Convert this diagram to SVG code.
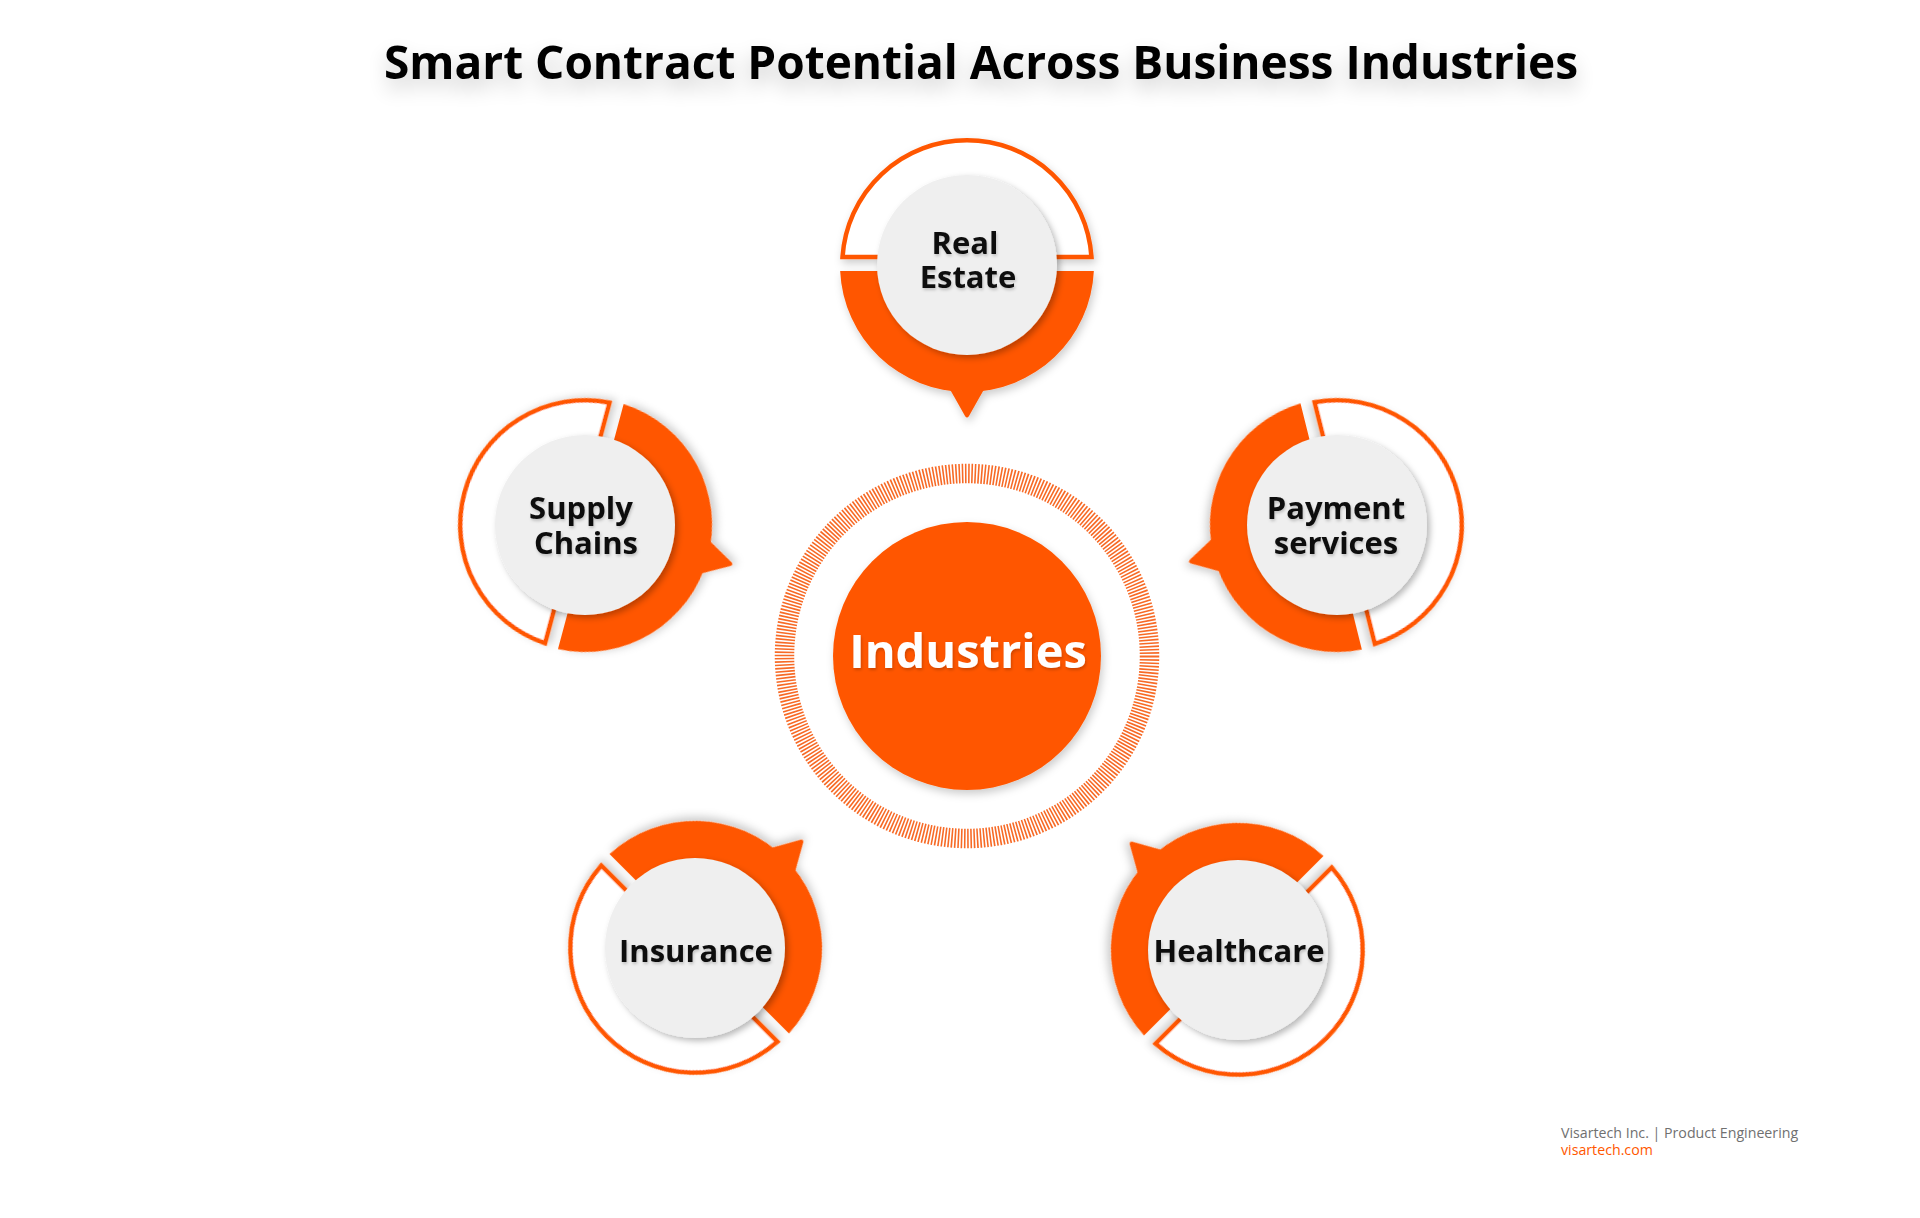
<svg xmlns="http://www.w3.org/2000/svg" xmlns:xlink="http://www.w3.org/1999/xlink" width="1920" height="1218" viewBox="0 0 1920 1218">
<style>
.thin{fill:#ffffff;stroke:#ff5700;stroke-width:4.5;stroke-linejoin:miter}
.thick{fill:#ff5700}
.disc{fill:#efefef}
.lbl{font-family:"Open Sans","Noto Sans","DejaVu Sans",sans-serif;font-weight:700;font-size:31px;fill:#111111;text-anchor:middle}
.title{font-family:"Open Sans","Noto Sans","DejaVu Sans",sans-serif;font-weight:700;font-size:46px;fill:#000000;text-anchor:middle}
.hub{font-family:"Open Sans","Noto Sans","DejaVu Sans",sans-serif;font-weight:700;font-size:47px;fill:#ffffff;text-anchor:middle}
.foot{font-family:"Open Sans","Noto Sans","DejaVu Sans",sans-serif;font-size:14.2px}
</style>
<defs>
<filter id="sh" x="-30%" y="-30%" width="160%" height="160%">
<feDropShadow dx="2" dy="4" stdDeviation="4" flood-color="#000" flood-opacity="0.2"/>
</filter>
<filter id="dsh" x="-30%" y="-30%" width="160%" height="160%">
<feDropShadow dx="3" dy="3" stdDeviation="3" flood-color="#000" flood-opacity="0.28"/>
</filter>
<filter id="tsh" x="-20%" y="-40%" width="140%" height="180%">
<feDropShadow dx="1" dy="2" stdDeviation="1.5" flood-color="#000" flood-opacity="0.2"/>
</filter>
<filter id="titsh" x="-10%" y="-100%" width="120%" height="300%">
<feGaussianBlur in="SourceAlpha" stdDeviation="10" result="b"/>
<feOffset in="b" dy="10" result="o"/>
<feComponentTransfer in="o" result="c"><feFuncA type="linear" slope="0.2"/></feComponentTransfer>
<feMerge><feMergeNode in="c"/><feMergeNode in="SourceGraphic"/></feMerge>
</filter>
<g id="ring">
<path class="thin" d="M 124.49 -8 A 124.75 124.75 0 0 0 -124.49 -8 L -85.63 -8 A 86 86 0 0 1 85.63 -8 Z"/>
<path class="thick" d="M 126.86 6 A 127 127 0 0 1 -126.86 6 L -85.79 6 A 86 86 0 0 0 85.79 6 Z"/>
<path class="thick" d="M -24 112 L 24 112 L 2 151 Q 0 154 -2 151 Z"/>
</g>
</defs>
<rect width="1920" height="1218" fill="#ffffff"/>
<text class="title" x="981" y="79" filter="url(#titsh)">Smart Contract Potential Across Business Industries</text>
<g id="connectors"/>
<g id="hub">
<circle cx="967" cy="656" r="182.5" fill="none" stroke="#f76a26" stroke-width="19.5" stroke-dasharray="1.6 1.6"/>
<circle cx="967" cy="656" r="134" fill="#ff5700" filter="url(#sh)"/>
<text class="hub" x="968" y="668" filter="url(#tsh)">Industries</text>
</g>
<g id="real-estate">
<use xlink:href="#ring" href="#ring" transform="translate(967 265)" filter="url(#sh)"/>
<circle class="disc" cx="967" cy="265" r="90" filter="url(#dsh)"/>
<text class="lbl" filter="url(#tsh)"><tspan x="965" y="254">Real</tspan><tspan x="968" y="288">Estate</tspan></text>
</g>
<g id="supply-chains">
<use xlink:href="#ring" href="#ring" transform="translate(585 525) rotate(-75)" filter="url(#sh)"/>
<circle class="disc" cx="585" cy="525" r="90" filter="url(#dsh)"/>
<text class="lbl" filter="url(#tsh)"><tspan x="581" y="519">Supply</tspan><tspan x="586" y="554">Chains</tspan></text>
</g>
<g id="payment-services">
<use xlink:href="#ring" href="#ring" transform="translate(1337 525) rotate(76)" filter="url(#sh)"/>
<circle class="disc" cx="1337" cy="525" r="90" filter="url(#dsh)"/>
<text class="lbl" filter="url(#tsh)"><tspan x="1336" y="519">Payment</tspan><tspan x="1336" y="554">services</tspan></text>
</g>
<g id="insurance">
<use xlink:href="#ring" href="#ring" transform="translate(695 948) rotate(-135)" filter="url(#sh)"/>
<circle class="disc" cx="695" cy="948" r="90" filter="url(#dsh)"/>
<text class="lbl" x="696" y="962" filter="url(#tsh)">Insurance</text>
</g>
<g id="healthcare">
<use xlink:href="#ring" href="#ring" transform="translate(1238 950) rotate(135)" filter="url(#sh)"/>
<circle class="disc" cx="1238" cy="950" r="90" filter="url(#dsh)"/>
<text class="lbl" x="1239" y="962" filter="url(#tsh)">Healthcare</text>
</g>
<g id="footer">
<text class="foot" x="1561" y="1138" fill="#707070">Visartech Inc. | Product Engineering</text>
<text class="foot" x="1561" y="1155" fill="#ff5700">visartech.com</text>
</g>
</svg>
